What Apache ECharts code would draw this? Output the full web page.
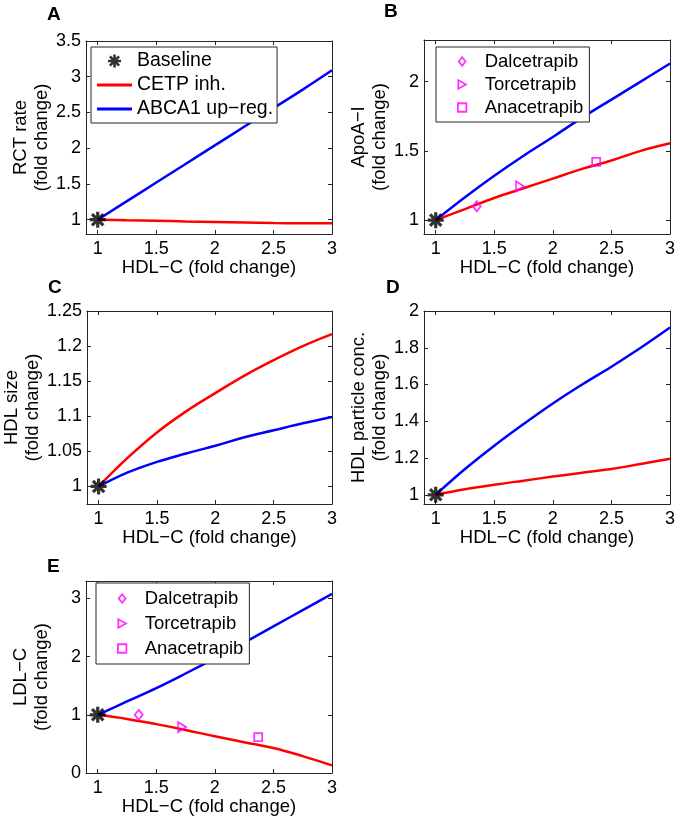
<!DOCTYPE html>
<html>
<head>
<meta charset="utf-8">
<script src="https://cdn.jsdelivr.net/npm/echarts@6/dist/echarts.min.js"></script>
<style>
  html, body { margin: 0; padding: 0; background: #fff; }
  #chart { width: 678px; height: 820px; }
</style>
</head>
<body>
<div id="chart"></div>
<script>
// HDL-C fold change (x) shared by every model curve
const hdlC = [1, 1.25, 1.5, 1.75, 2, 2.25, 2.5, 2.75, 3];

// A: RCT rate
const rctCetp = [1, 0.993, 0.986, 0.975, 0.967, 0.96, 0.954, 0.951, 0.95];
const rctAbca1 = [1, 1.26, 1.52, 1.78, 2.04, 2.3, 2.56, 2.82, 3.09];
// B: ApoA-I
const apoCetp = [1, 1.08, 1.16, 1.23, 1.3, 1.37, 1.43, 1.5, 1.555];
const apoAbca1 = [1, 1.165, 1.32, 1.465, 1.6, 1.74, 1.87, 2.0, 2.13];
// C: HDL size
const sizeCetp = [1, 1.041, 1.077, 1.107, 1.133, 1.158, 1.18, 1.2, 1.217];
const sizeAbca1 = [1, 1.02, 1.035, 1.047, 1.058, 1.07, 1.08, 1.09, 1.099];
// D: HDL particle conc.
const partCetp = [1, 1.03, 1.055, 1.077, 1.099, 1.12, 1.14, 1.168, 1.196];
const partAbca1 = [1, 1.14, 1.267, 1.385, 1.497, 1.6, 1.697, 1.8, 1.91];
// E: LDL-C
const ldlCetp = [1, 0.93, 0.84, 0.74, 0.63, 0.53, 0.43, 0.29, 0.13];
const ldlAbca1 = [1, 1.23, 1.46, 1.71, 1.97, 2.24, 2.52, 2.8, 3.08];

// clinical CETP inhibitors
const drugNames = ['Dalcetrapib', 'Torcetrapib', 'Anacetrapib'];
const drugHdl = [1.35, 1.72, 2.37];
const drugApoA = [1.1, 1.243, 1.42];
const drugLdl = [1.0, 0.79, 0.615];

// tick labels
const xTicks = [1, 1.5, 2, 2.5, 3];
const yTicksA = [1, 1.5, 2, 2.5, 3, 3.5];
const yTicksB = [1, 1.5, 2];
const yTicksC = [1, 1.05, 1.1, 1.15, 1.2, 1.25];
const yTicksD = [1, 1.2, 1.4, 1.6, 1.8, 2];
const yTicksE = [0, 1, 2, 3];

const FONT = 'Liberation Sans, Arial, sans-serif';
const AXIS_COLOR = '#262626';
const RED = '#ff0000';
const BLUE = '#0000ff';
const MAGENTA = '#ff00ff';

const asterisk = 'path://M8 0 L12 0 L12 20 L8 20 Z M0 8 L20 8 L20 12 L0 12 Z ' +
    'M4.34 1.51 L18.49 15.66 L15.66 18.49 L1.51 4.34 Z M15.66 1.51 L18.49 4.34 L4.34 18.49 L1.51 15.66 Z';
const lineIcon = 'path://M0 0 H36 V3 H0 Z';
const rightTri = 'path://M0 0 L9 5 L0 10 Z';
const drugSymbols = ['diamond', rightTri, 'rect'];
const drugSizes = [[8, 10], [8, 10], [8, 8]];
const drugIcons = ['path://M4 0 L8 5 L4 10 L0 5 Z', rightTri, 'path://M0 0 H8 V8 H0 Z'];

const panels = [
    { letter: 'A', grid: { left: 86, top: 41, width: 246, height: 193 }, title: [47, 5],
      yName: 'RCT rate\n(fold change)', yMin: 0.8, yMax: 3.5, yTicks: yTicksA,
      cetp: rctCetp, abca1: rctAbca1 },
    { letter: 'B', grid: { left: 424, top: 40, width: 246, height: 194 }, title: [384, 2],
      yName: 'ApoA\u2212I\n(fold change)', yMin: 0.9, yMax: 2.3, yTicks: yTicksB,
      cetp: apoCetp, abca1: apoAbca1, drugs: drugApoA },
    { letter: 'C', grid: { left: 86, top: 311, width: 246, height: 193 }, title: [48, 278],
      yName: 'HDL size\n(fold change)', yMin: 0.975, yMax: 1.25, yTicks: yTicksC,
      cetp: sizeCetp, abca1: sizeAbca1 },
    { letter: 'D', grid: { left: 424, top: 311, width: 246, height: 193 }, title: [386, 278],
      yName: 'HDL particle conc.\n(fold change)', yMin: 0.95, yMax: 2, yTicks: yTicksD,
      cetp: partCetp, abca1: partAbca1 },
    { letter: 'E', grid: { left: 86, top: 581, width: 246, height: 192 }, title: [47, 557],
      yName: 'LDL\u2212C\n(fold change)', yMin: 0, yMax: 3.3, yTicks: yTicksE,
      cetp: ldlCetp, abca1: ldlAbca1, drugs: drugLdl }
];

const chart = echarts.init(document.getElementById('chart'));

const title = [], grid = [], xAxis = [], yAxis = [], series = [];

function frameAxis(extra) {
    return Object.assign({
        axisLine: { show: true, onZero: false, lineStyle: { color: AXIS_COLOR, width: 1 } },
        splitLine: { show: false },
        axisLabel: { show: false }
    }, extra);
}

function ticks(values) {
    return { show: true, inside: true, length: 4, customValues: values, lineStyle: { color: AXIS_COLOR } };
}

panels.forEach((p, i) => {
    title.push({
        text: p.letter, left: p.title[0], top: p.title[1], padding: 0,
        textStyle: { fontFamily: FONT, fontSize: 19, fontWeight: 'bold', color: '#000' }
    });
    grid.push(Object.assign({ containLabel: false }, p.grid));

    const label = { show: true, fontFamily: FONT, fontSize: 18, color: '#000' };
    xAxis.push(frameAxis({
        type: 'value', gridIndex: i, position: 'bottom', min: 0.9, max: 3,
        axisTick: ticks(xTicks),
        axisLabel: Object.assign({ margin: 6, customValues: xTicks }, label),
        name: 'HDL\u2212C (fold change)', nameLocation: 'middle', nameGap: 23,
        nameTextStyle: { fontFamily: FONT, fontSize: 18.5, color: '#000' }
    }));
    xAxis.push(frameAxis({
        type: 'value', gridIndex: i, position: 'top', min: 0.9, max: 3,
        axisTick: ticks(xTicks)
    }));
    yAxis.push(frameAxis({
        type: 'value', gridIndex: i, position: 'left', min: p.yMin, max: p.yMax,
        axisTick: ticks(p.yTicks),
        axisLabel: Object.assign({ margin: 5, customValues: p.yTicks }, label),
        name: p.yName, nameLocation: 'middle', nameRotate: 90, nameGap: 34,
        nameTextStyle: { fontFamily: FONT, fontSize: 18.5, lineHeight: 21, color: '#000' }
    }));
    yAxis.push(frameAxis({
        type: 'value', gridIndex: i, position: 'right', min: p.yMin, max: p.yMax,
        axisTick: ticks(p.yTicks)
    }));

    const axes = { xAxisIndex: 2 * i, yAxisIndex: 2 * i };
    series.push(Object.assign({
        name: 'CETP inh.', type: 'line', smooth: 0.4, showSymbol: false, z: 3,
        lineStyle: { color: RED, width: 2.5 }, itemStyle: { color: RED },
        data: hdlC.map((x, k) => [x, p.cetp[k]])
    }, axes));
    series.push(Object.assign({
        name: 'ABCA1 up-reg.', type: 'line', smooth: 0.4, showSymbol: false, z: 3,
        lineStyle: { color: BLUE, width: 2.5 }, itemStyle: { color: BLUE },
        data: hdlC.map((x, k) => [x, p.abca1[k]])
    }, axes));
    if (p.drugs) {
        drugNames.forEach((name, k) => {
            series.push(Object.assign({
                name: name, type: 'scatter', symbol: drugSymbols[k], symbolSize: drugSizes[k], z: 4,
                itemStyle: { color: 'rgba(255,255,255,0)', borderColor: MAGENTA, borderWidth: 1.8 },
                data: [[drugHdl[k], p.drugs[k]]]
            }, axes));
        });
    }
    series.push(Object.assign({
        name: 'Baseline', type: 'scatter', symbol: asterisk, symbolSize: 16, z: 5,
        itemStyle: { color: '#000' },
        data: [[1, 1]]
    }, axes));
});

const legendBase = {
    orient: 'vertical', backgroundColor: '#fff', borderColor: AXIS_COLOR, borderWidth: 1,
    itemWidth: 35, itemHeight: 13, itemGap: 4, selectedMode: false,
    textStyle: { fontFamily: FONT, fontSize: 19.5, color: '#000' }
};
const drugLegendData = drugNames.map((n, k) => ({
    name: n, icon: drugIcons[k],
    itemStyle: { color: 'rgba(255,255,255,0)', borderColor: MAGENTA, borderWidth: 1.8 }
}));
const drugLegend = {
    itemHeight: 8.5, textStyle: { fontFamily: FONT, fontSize: 18.5, color: '#000' }, data: drugLegendData
};

const legend = [
    Object.assign({}, legendBase, {
        left: 91, top: 47, padding: [4, 4, 4, 6],
        data: [
            { name: 'Baseline', icon: asterisk, itemStyle: { color: '#000' } },
            { name: 'CETP inh.', icon: lineIcon, itemStyle: { color: RED } },
            { name: 'ABCA1 up-reg.', icon: lineIcon, itemStyle: { color: BLUE } }
        ],
        formatter: n => n.replace('-', '\u2212')
    }),
    Object.assign({}, legendBase, drugLegend, { left: 436, top: 47, padding: [5, 6, 5, 21], itemGap: 4 }),
    Object.assign({}, legendBase, drugLegend, { left: 96, top: 583, padding: [6, 6, 6, 21], itemGap: 6 })
];

chart.setOption({
    animation: false,
    backgroundColor: '#fff',
    textStyle: { fontFamily: FONT },
    title: title,
    legend: legend,
    grid: grid,
    xAxis: xAxis,
    yAxis: yAxis,
    series: series
});
</script>
</body>
</html>
